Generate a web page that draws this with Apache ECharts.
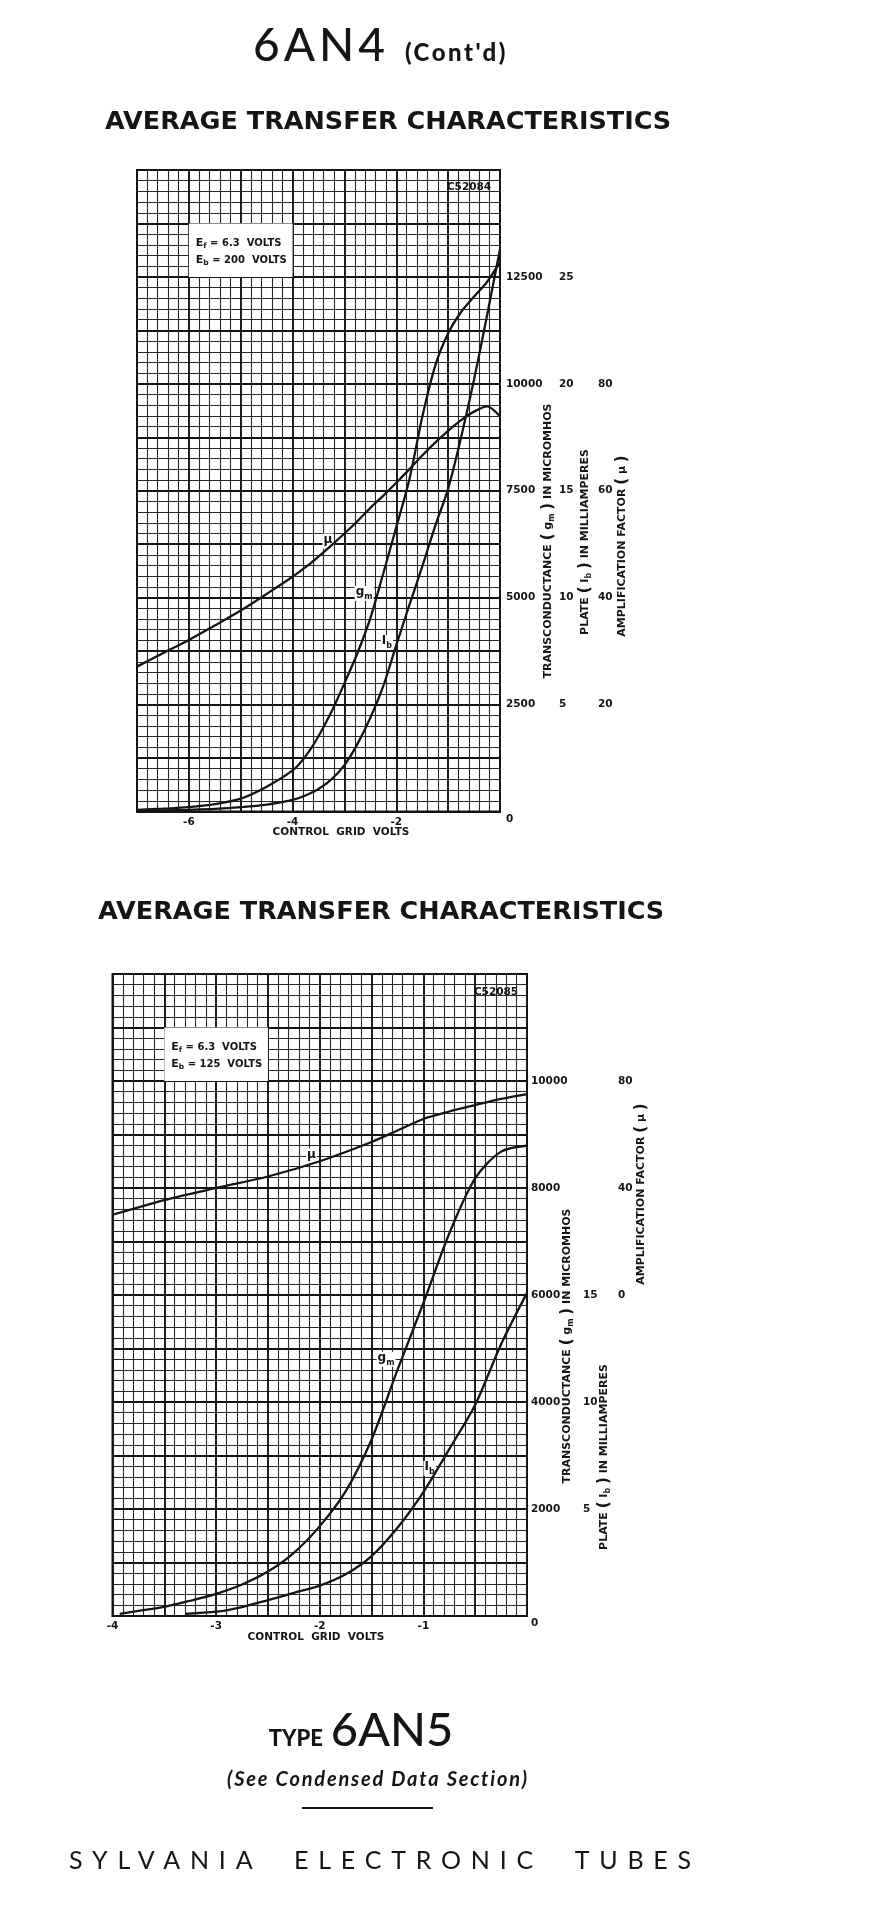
<!DOCTYPE html>
<html>
<head>
<meta charset="utf-8">
<title>6AN4 average transfer characteristics</title>
<script src="https://cdn.jsdelivr.net/npm/echarts@6/dist/echarts.min.js"></script>
<style>
  html, body { margin: 0; padding: 0; background: #fff; }
  #page { position: relative; width: 878px; height: 1913px; overflow: hidden; }
  #chart { position: absolute; left: 0; top: 0; width: 878px; height: 1913px; }
  .txt { position: absolute; color: #151515; white-space: nowrap; text-align: center; }
</style>
</head>
<body>
<div id="page">
  <div id="chart"></div>
  <div class="txt" style="left:253px; top:16px; text-align:left;"><span style="font:500 46px Lato, sans-serif; letter-spacing:4px;">6AN4</span><span style="font:900 24px Lato, sans-serif; letter-spacing:2.5px; margin-left:16px;">(Cont'd)</span></div>
  <div class="txt" style="left:0; width:722px; top:1700px;">
    <span style="font:900 22px Lato, sans-serif;">TYPE</span>
    <span style="font:500 47px Lato, sans-serif; margin-left:4px;">6AN5</span>
  </div>
  <div class="txt" style="left:0; width:756px; top:1766px; font:italic 700 20px Lato, sans-serif; letter-spacing:1.8px;">(See Condensed Data Section)</div>
  <div style="position:absolute; left:302px; top:1807px; width:131px; height:2px; background:#151515;"></div>
  <div class="txt" style="left:0; width:770px; top:1844px; font:400 25px Lato, sans-serif; letter-spacing:9.8px;">SYLVANIA&nbsp; ELECTRONIC&nbsp; TUBES</div>
</div>
<script>
// ---- 6AN4, Eb = 200 V (upper chart) ----
const topVolts = [-7, -6.5, -6, -5.5, -5, -4.5, -4, -3.75, -3.5, -3.25, -3, -2.75, -2.5, -2.25, -2, -1.75, -1.5, -1.25, -1, -0.75, -0.5, -0.25, 0];
const topGm = [40, 65, 100, 170, 300, 580, 960, 1290, 1760, 2330, 3000, 3700, 4520, 5570, 6650, 7750, 9220, 10420, 11180, 11680, 12040, 12380, 12850];
const topIb = [0.03, 0.05, 0.08, 0.12, 0.2, 0.32, 0.54, 0.75, 1.05, 1.5, 2.17, 3.15, 4.38, 5.87, 7.78, 9.64, 11.45, 13.35, 15.1, 17.5, 20.2, 23.2, 26.3];
const topMu = [27.1, 29.6, 32.1, 34.8, 37.6, 40.7, 43.9, 45.7, 47.7, 49.8, 52.0, 54.3, 56.8, 59.1, 61.5, 64.0, 66.6, 69.0, 71.2, 73.2, 74.8, 75.8, 73.9];

// ---- 6AN4, Eb = 125 V (lower chart) ----
const botGmVolts = [-3.93, -3.75, -3.5, -3.25, -3, -2.75, -2.5, -2.25, -2, -1.75, -1.5, -1.25, -1, -0.75, -0.5, -0.25, 0];
const botGm = [40, 95, 170, 285, 415, 590, 830, 1180, 1680, 2330, 3300, 4600, 5850, 7150, 8180, 8680, 8790];
const botIbVolts = [-3.3, -3, -2.75, -2.5, -2.25, -2, -1.75, -1.5, -1.25, -1, -0.75, -0.5, -0.25, 0];
const botIb = [0.1, 0.2, 0.42, 0.74, 1.08, 1.42, 1.95, 2.8, 4.12, 5.79, 7.8, 9.87, 12.7, 15.1];
const botMuVolts = [-4, -3.5, -3, -2.5, -2, -1.5, -1.25, -1, -0.75, -0.5, -0.25, 0];
const botMu = [30.0, 35.5, 40.0, 44.3, 50.0, 57.2, 61.5, 65.8, 68.6, 71.0, 73.3, 75.1];

// labelled ticks
const topVoltTicks = [-6, -4, -2];
const topGmTicks = [0, 2500, 5000, 7500, 10000, 12500];
const topIbTicks = [5, 10, 15, 20, 25];
const topMuTicks = [20, 40, 60, 80];
const botVoltTicks = [-4, -3, -2, -1];
const botGmTicks = [0, 2000, 4000, 6000, 8000, 10000];
const botIbTicks = [5, 10, 15];
const botMuTicks = [0, 40, 80];

const FONT = "'DejaVu Sans', sans-serif";
const INK = '#151515';

function zip(xs, ys) {
  return xs.map((x, i) => [x, ys[i]]);
}

function pick(ticks) {
  return v => ticks.includes(v) ? String(v) : '';
}

// gm axis label: the 0 sits a little below the corner
function gmLabel(ticks) {
  return v => {
    if (!ticks.includes(v)) return '';
    return v === 0 ? '{z|0}' : String(v);
  };
}

const labelFont = { fontFamily: FONT, fontWeight: 'bold', fontSize: 10.5, color: INK };
const majorLine = { color: '#141414', width: 1.9 };
const minorLine = { color: '#262626', width: 1.1 };

function xAxisOpt(grid, min, interval, ticks) {
  return {
    type: 'value', gridIndex: grid, min: min, max: 0, interval: interval,
    axisLine: { show: true, onZero: false, lineStyle: { color: INK, width: 2 } },
    axisTick: { show: false },
    axisLabel: Object.assign({ margin: 5, formatter: pick(ticks) }, labelFont),
    splitLine: { show: true, lineStyle: majorLine },
    minorTick: { show: false, splitNumber: 5 },
    minorSplitLine: { show: true, lineStyle: minorLine }
  };
}

function gmAxisOpt(grid, max, interval, ticks, margin) {
  return {
    type: 'value', gridIndex: grid, position: 'right', min: 0, max: max, interval: interval,
    axisLine: { show: true, lineStyle: { color: INK, width: 2 } },
    axisTick: { show: false },
    axisLabel: Object.assign({
      margin: margin, formatter: gmLabel(ticks),
      rich: { z: { fontFamily: FONT, fontWeight: 'bold', fontSize: 10.5, color: INK, padding: [15, 0, 0, 0] } }
    }, labelFont),
    splitLine: { show: true, lineStyle: majorLine },
    minorTick: { show: false, splitNumber: 5 },
    minorSplitLine: { show: true, lineStyle: minorLine }
  };
}

function sideAxisOpt(grid, min, max, interval, ticks, offset) {
  return {
    type: 'value', gridIndex: grid, position: 'right', offset: offset,
    min: min, max: max, interval: interval,
    axisLine: { show: false }, axisTick: { show: false }, splitLine: { show: false },
    axisLabel: Object.assign({ margin: 6, formatter: pick(ticks) }, labelFont)
  };
}

const curveStyle = { color: INK, width: 2.3 };

const subRich = {
  a: { fontFamily: FONT, fontWeight: 'bold', fontSize: 12, color: INK, verticalAlign: 'bottom', padding: [0, 0, 3, 0] },
  b: { fontFamily: FONT, fontWeight: 'bold', fontSize: 8, color: INK, verticalAlign: 'bottom' }
};

function curveLabel(coord, text) {
  return {
    symbol: 'rect', symbolSize: 1, silent: true, animation: false,
    itemStyle: { color: 'rgba(0,0,0,0)' },
    label: { show: true, position: 'inside', formatter: text, rich: subRich, backgroundColor: '#fff', padding: [0, 1, 0, 1] },
    data: [{ coord: coord }]
  };
}

const boxRich = {
  e: { fontFamily: FONT, fontWeight: 'bold', fontSize: 11, color: INK, verticalAlign: 'bottom', padding: [0, 0, 2, 0] },
  s: { fontFamily: FONT, fontWeight: 'bold', fontSize: 7.5, color: INK, verticalAlign: 'bottom' },
  t: { fontFamily: FONT, fontWeight: 'bold', fontSize: 10, color: INK, verticalAlign: 'bottom', padding: [0, 0, 2, 0] }
};

function conditionBox(from, to, eb) {
  return {
    silent: true, animation: false,
    itemStyle: { color: '#fff', opacity: 1 },
    label: {
      show: true, position: 'insideLeft', distance: 7, lineHeight: 17,
      formatter: '{e|E}{s|f}{t| = 6.3  VOLTS}\n{e|E}{s|b}{t| = ' + eb + '  VOLTS}',
      rich: boxRich
    },
    data: [[{ coord: from }, { coord: to }]]
  };
}

const titleRich = {
  n: { fontFamily: FONT, fontWeight: 'bold', fontSize: 11, fill: INK },
  p: { fontFamily: FONT, fontWeight: 'bold', fontSize: 15, fill: INK },
  s: { fontFamily: FONT, fontWeight: 'bold', fontSize: 8, fill: INK, padding: [7, 0, 0, 0] }
};

function sideTitle(x, y, text) {
  return {
    type: 'text', x: x, y: y, rotation: Math.PI / 2, silent: true,
    style: { text: text, rich: titleRich, align: 'center', verticalAlign: 'middle', textAlign: 'center', textVerticalAlign: 'middle' }
  };
}

function plainText(x, y, text, size) {
  return {
    type: 'text', x: x, y: y, silent: true,
    style: {
      text: text, fontFamily: FONT, fontWeight: 'bold', fontSize: size, fill: INK,
      align: 'center', verticalAlign: 'middle', textAlign: 'center', textVerticalAlign: 'middle',
      backgroundColor: '#fff'
    }
  };
}

const TRANS = '{n|TRANSCONDUCTANCE }{p|(}{n| g}{s|m}{n| }{p|)}{n| IN MICROMHOS}';
const PLATE = '{n|PLATE }{p|(}{n| I}{s|b}{n| }{p|)}{n| IN MILLIAMPERES}';
const AMP = '{n|AMPLIFICATION FACTOR }{p|(}{n| μ }{p|)}';

const chart = echarts.init(document.getElementById('chart'));

chart.setOption({
  animation: false,
  backgroundColor: '#fff',
  title: [
    { text: 'AVERAGE TRANSFER CHARACTERISTICS', left: 100, top: 104,
      textStyle: { fontFamily: FONT, fontWeight: 'bold', fontSize: 25.5, color: INK } },
    { text: 'AVERAGE TRANSFER CHARACTERISTICS', left: 93, top: 894,
      textStyle: { fontFamily: FONT, fontWeight: 'bold', fontSize: 25.5, color: INK } }
  ],
  grid: [
    { left: 137, top: 170, width: 363, height: 641.5, show: true, borderColor: INK, borderWidth: 2, containLabel: false },
    { left: 112.5, top: 974, width: 414.5, height: 642, show: true, borderColor: INK, borderWidth: 2, containLabel: false }
  ],
  xAxis: [
    xAxisOpt(0, -7, 1, topVoltTicks),
    xAxisOpt(1, -4, 0.5, botVoltTicks)
  ],
  yAxis: [
    gmAxisOpt(0, 15000, 1250, topGmTicks, 6),
    sideAxisOpt(0, 0, 30, 2.5, topIbTicks, 53),
    sideAxisOpt(0, 0, 120, 10, topMuTicks, 92),
    gmAxisOpt(1, 12000, 1000, botGmTicks, 4),
    sideAxisOpt(1, 0, 30, 2.5, botIbTicks, 50),
    sideAxisOpt(1, -120, 120, 20, botMuTicks, 85)
  ],
  series: [
    { name: 'gm 200V', type: 'line', xAxisIndex: 0, yAxisIndex: 0, data: zip(topVolts, topGm),
      smooth: 0.3, symbol: 'none', lineStyle: curveStyle, z: 5,
      markPoint: curveLabel([-2.62, 5100], '{a|g}{b|m}'),
      markArea: conditionBox([-6, 12500], [-4, 13750], '200') },
    { name: 'Ib 200V', type: 'line', xAxisIndex: 0, yAxisIndex: 1, data: zip(topVolts, topIb),
      smooth: 0.3, symbol: 'none', lineStyle: curveStyle, z: 5,
      markPoint: curveLabel([-2.18, 7.9], '{a|I}{b|b}') },
    { name: 'mu 200V', type: 'line', xAxisIndex: 0, yAxisIndex: 2, data: zip(topVolts, topMu),
      smooth: 0.3, symbol: 'none', lineStyle: curveStyle, z: 5,
      markPoint: curveLabel([-3.32, 50.6], '{a|μ}') },
    { name: 'gm 125V', type: 'line', xAxisIndex: 1, yAxisIndex: 3, data: zip(botGmVolts, botGm),
      smooth: 0.3, symbol: 'none', lineStyle: curveStyle, z: 5,
      markPoint: curveLabel([-1.36, 4800], '{a|g}{b|m}'),
      markArea: conditionBox([-3.5, 10000], [-2.5, 11000], '125') },
    { name: 'Ib 125V', type: 'line', xAxisIndex: 1, yAxisIndex: 4, data: zip(botIbVolts, botIb),
      smooth: 0.3, symbol: 'none', lineStyle: curveStyle, z: 5,
      markPoint: curveLabel([-0.94, 6.9], '{a|I}{b|b}') },
    { name: 'mu 125V', type: 'line', xAxisIndex: 1, yAxisIndex: 5, data: zip(botMuVolts, botMu),
      smooth: 0.3, symbol: 'none', lineStyle: curveStyle, z: 5,
      markPoint: curveLabel([-2.08, 52], '{a|μ}') }
  ],
  graphic: [
    plainText(469, 187, 'C52084', 10.5),
    plainText(496, 992, 'C52085', 10.5),
    plainText(341, 832, 'CONTROL  GRID  VOLTS', 10.5),
    plainText(316, 1637, 'CONTROL  GRID  VOLTS', 10.5),
    sideTitle(548, 541, TRANS),
    sideTitle(585, 542, PLATE),
    sideTitle(622, 546, AMP),
    sideTitle(567, 1346, TRANS),
    sideTitle(604, 1457, PLATE),
    sideTitle(641, 1194, AMP)
  ]
});
</script>
</body>
</html>
